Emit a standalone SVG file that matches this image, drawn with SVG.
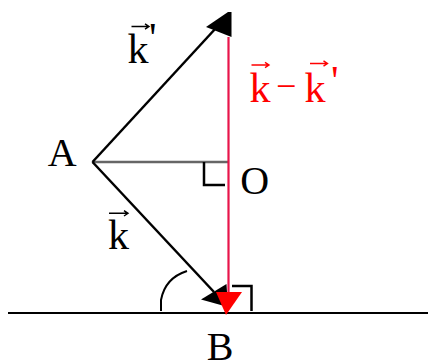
<svg xmlns="http://www.w3.org/2000/svg" width="430" height="361" viewBox="0 0 430 361">
<style>
.lbl{font-family:"Liberation Serif","Times New Roman",serif;fill:#000}
.red{fill:#ff0000}
.ln{stroke:#000;stroke-width:2.5;fill:none}
.acc{stroke:#000;stroke-width:1.4;fill:none}
.accr{stroke:#ff0000;stroke-width:1.4;fill:none}
</style>
<rect width="430" height="361" fill="#fff"/>
<g id="connectors">
  <line x1="8" y1="313" x2="428" y2="313" stroke="#000" stroke-width="2"/>
  <line x1="92.5" y1="162" x2="228" y2="162" stroke="#666" stroke-width="2.5"/>
  <line x1="92.5" y1="162" x2="216" y2="28" class="ln"/>
  <polygon points="228,12 231.5,12 231.5,37 206,27" fill="#000"/>
  <line x1="92.5" y1="162" x2="214" y2="292" class="ln"/>
  <polygon points="201,299.5 226.5,284 228,307" fill="#000"/>
  <line x1="228.5" y1="37" x2="228.5" y2="294" stroke="#e8154a" stroke-width="2.2"/>
  <polygon points="216,292 242,292 226,315" fill="#ff0000"/>
  <path d="M204,162 V185 H225" class="ln"/>
  <path d="M232,286 H251.5 V311" class="ln"/>
  <path d="M161,311 V300 Q165,278 187,271" stroke="#000" stroke-width="2" fill="none"/>
</g>
<g id="node-A"><text class="lbl" x="47.7" y="166" font-size="40">A</text></g>
<g id="node-O"><text class="lbl" x="240.3" y="194" font-size="40">O</text></g>
<g id="node-B"><text class="lbl" x="206.7" y="360" font-size="40">B</text></g>
<g id="label-kprime">
  <text class="lbl" x="127.5" y="63" font-size="42">k</text>
  <text class="lbl" x="149" y="51.5" font-size="42">'</text>
  <path d="M131.5,26.5 H149 M145,23.8 L149,26.5 L145,29.2" class="acc"/>
</g>
<g id="label-k">
  <text class="lbl" x="108" y="249" font-size="42">k</text>
  <path d="M109,213.3 H128 M124,210.6 L128,213.3 L124,216" class="acc"/>
</g>
<g id="label-diff">
  <text class="lbl red" x="249.5" y="102" font-size="42">k</text>
  <path d="M251.5,65 H269 M265,62.3 L269,65 L265,67.7" class="accr"/>
  <text class="lbl red" x="276" y="98" font-size="36">−</text>
  <text class="lbl red" x="304.5" y="102" font-size="42">k</text>
  <path d="M310,63.5 H327.5 M323.5,60.8 L327.5,63.5 L323.5,66.2" class="accr"/>
  <text class="lbl red" x="331" y="95" font-size="42">'</text>
</g>
</svg>
